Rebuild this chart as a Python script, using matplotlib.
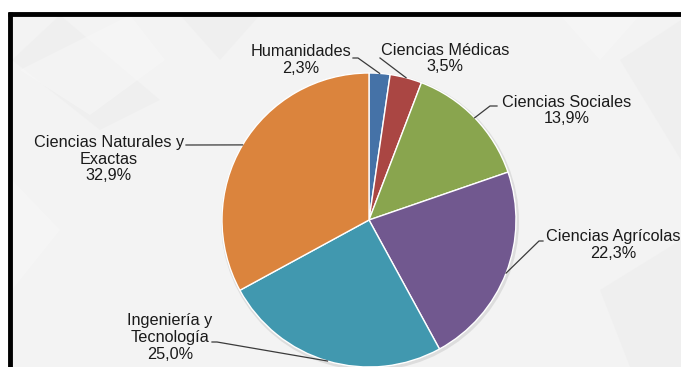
import numpy as np
import matplotlib.pyplot as plt
from matplotlib.patches import Polygon, Circle

plt.rcParams['font.family'] = ['Liberation Sans', 'DejaVu Sans']

# Distribución por área del conocimiento (%)
areas = ["Humanidades", "Ciencias Médicas", "Ciencias Sociales",
         "Ciencias Agrícolas", "Ingeniería y\nTecnología",
         "Ciencias Naturales y\nExactas"]
shares = [2.3, 3.5, 13.9, 22.3, 25.0, 32.9]
colors = ["#4572A7", "#AA4643", "#89A54E", "#71588F", "#4198AF", "#DB843D"]

# label block centres and leader-line elbows, in pixels from top-left
label_xy = [(301, 60), (445, 58.5), (567, 110.5), (613.5, 245), (170, 337.5), (109, 159)]
elbow_xy = [(353, 58), (380, 58), (497, 106), (543, 241), (212, 342), (186, 145)]
knee_xy = [(358, 58), (380, 58), (490, 106), (539, 241), (217, 342), (190, 145)]

W, H = 681, 367
CX, CY, R = 369, 220, 147


def px(x, y):
    # pixel coordinates (y down) to data coordinates (y up)
    return x, H - y


fig = plt.figure(figsize=(6.81, 3.67), dpi=100)
fig.patch.set_facecolor("white")
ax = fig.add_axes([0, 0, 1, 1])
ax.set_xlim(0, W)
ax.set_ylim(0, H)
ax.set_aspect("equal")
ax.axis("off")

# framed slide background with faint geometric shapes
ax.add_patch(Polygon([px(8, 12), px(W, 12), px(W, H), px(8, H)],
                     closed=True, facecolor="#f3f3f3", edgecolor="none", zorder=0))
shapes = [
    [(12, 60), (60, 15), (160, 100), (100, 130)],
    [(20, 70), (130, 15), (165, 60), (90, 115)],
    [(180, 15), (260, 15), (220, 60)],
    [(560, 15), (640, 15), (600, 60)],
    [(620, 60), (681, 20), (681, 160)],
    [(12, 180), (60, 230), (12, 290)],
    [(600, 290), (681, 240), (681, 367), (630, 367)],
]
for i, s in enumerate(shapes):
    ax.add_patch(Polygon([px(*p) for p in s], closed=True,
                         facecolor="#ececec" if i % 2 == 0 else "#f8f8f8",
                         edgecolor="none", alpha=0.5, zorder=0))
ax.plot([8 + 2, 8 + 2], [0, H - 12], color="black", lw=3.5, solid_capstyle="butt", zorder=5)
ax.plot([8, W], [H - 13.5, H - 13.5], color="black", lw=3.5, solid_capstyle="butt", zorder=5)

# soft shadow behind the pie
ax.add_patch(Circle(px(CX + 1, CY + 1.5), R + 2, facecolor="#cfcfcf",
                    edgecolor="none", alpha=0.6, zorder=1))

wedges, _ = ax.pie(shares, colors=colors, startangle=90, counterclock=False,
                   center=px(CX, CY), radius=R, frame=True,
                   wedgeprops=dict(edgecolor="white", linewidth=1.0))
for w in wedges:
    w.set_zorder(2)
ax.set_xlim(0, W)
ax.set_ylim(0, H)
ax.axis("off")

# labels with leader lines to the middle of each wedge rim
for w, name, val, lxy, exy, kxy in zip(wedges, areas, shares, label_xy, elbow_xy, knee_xy):
    mid = np.deg2rad((w.theta1 + w.theta2) / 2)
    rim = (CX + R * np.cos(mid), CY - R * np.sin(mid))
    pts = [px(*exy), px(*kxy), px(*rim)]
    ax.plot([p[0] for p in pts], [p[1] for p in pts], color="#3a3a3a", lw=0.9, zorder=3)
    txt = f"{name}\n{val:.1f}%".replace(".", ",")
    ax.text(*px(*lxy), txt, ha="center", va="center", fontsize=11.7,
            color="#1a1a1a", linespacing=1.15, zorder=4)

fig.savefig("out.png", dpi=100)
